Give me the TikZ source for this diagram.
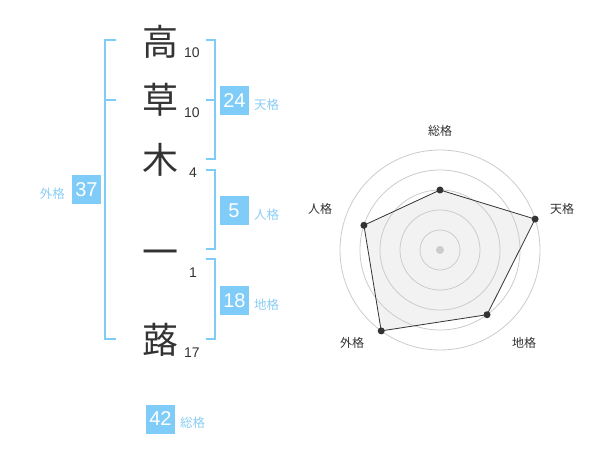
\documentclass[tikz,border=0pt]{standalone}
\usepackage{fontspec}
\setmainfont{Noto Sans CJK JP}
\newfontfamily\numfont{Liberation Sans}
\usetikzlibrary{calc}
\definecolor{kakublue}{RGB}{128,204,248}
\definecolor{kakulabel}{RGB}{140,206,245}
\definecolor{inkgray}{RGB}{51,51,51}
\definecolor{ringgray}{RGB}{204,204,204}
\definecolor{areagray}{RGB}{242,242,242}
\tikzset{
  moji/.style={font=\fontsize{36}{36}\selectfont, text=inkgray, inner sep=0pt},
  kakusu/.style={font=\numfont\fontsize{14}{14}\selectfont, text=inkgray, inner sep=0pt},
  kakubox/.style={fill=kakublue, text=white, font=\numfont\fontsize{20}{20}\selectfont,
    minimum width=29pt, minimum height=29pt, inner sep=0pt},
  kakuname/.style={font=\fontsize{12.5}{12.5}\selectfont, text=kakulabel, inner sep=0pt},
  bracket/.style={draw=kakublue, line width=2pt},
  ring/.style={draw=ringgray, line width=0.8pt},
  axislbl/.style={font=\fontsize{12}{12}\selectfont, text=inkgray, inner sep=0pt},
}
\begin{document}
\begin{tikzpicture}[x=1pt,y=-1pt]
\useasboundingbox[fill=white] (0,0) rectangle (600,470);

% name
\node[moji] (k1) at (160,42) {高};
\node[moji] (k2) at (160,100) {草};
\node[moji] (k3) at (160,160) {木};
\node[moji] (k4) at (160,258) {一};
\node[moji] (k5) at (160,340) {蕗};

\node[kakusu] (n1) at (192,53) {10};
\node[kakusu] (n2) at (192,113) {10};
\node[kakusu] (n3) at (193,173) {4};
\node[kakusu] (n4) at (193,273) {1};
\node[kakusu] (n5) at (192,353) {17};

% brackets
\draw[bracket] (116,40) -- (105,40) -- (105,339) -- (116,339);
\draw[bracket] (105,100) -- (116,100);
\draw[bracket] (205.5,40.5) -- (214.5,40.5) -- (214.5,159) -- (205.5,159);
\draw[bracket] (205.5,100) -- (214.5,100);
\draw[bracket] (205.5,170) -- (214.5,170) -- (214.5,249) -- (205.5,249);
\draw[bracket] (205.5,259) -- (214.5,259) -- (214.5,339) -- (205.5,339);

% scores
\node[kakubox] (ten) at (234.5,100.5) {24};
\node[kakuname, anchor=west] (tenl) at (254,104.5) {天格};
\node[kakubox] (jin) at (234,211) {5};
\node[kakuname, anchor=west] (jinl) at (254,214.5) {人格};
\node[kakubox] (chi) at (234.5,300.5) {18};
\node[kakuname, anchor=west] (chil) at (254,304.5) {地格};
\node[kakubox] (gai) at (86.5,190) {37};
\node[kakuname, anchor=east] (gail) at (65,194) {外格};
\node[kakubox] (sou) at (160.5,419) {42};
\node[kakuname, anchor=west] (soul) at (180,422.5) {総格};

% radar
\coordinate (c) at (440,250);
\foreach \a/\r [count=\i] in {-90/60, -18/100, 54/80, 126/100, 198/80}
  \coordinate (p\i) at ($(c)+(\a:\r)$);
\fill[areagray] (p1) -- (p2) -- (p3) -- (p4) -- (p5) -- cycle;
\foreach \r in {20,40,60,80,100}
  \draw[ring] (c) circle[radius=\r];
\draw[inkgray, line width=0.8pt] (p1) -- (p2) -- (p3) -- (p4) -- (p5) -- cycle;
\foreach \i in {1,...,5}
  \fill[inkgray] (p\i) circle[radius=3.5];
\fill[ringgray] (c) circle[radius=4];

\node[axislbl] (a1) at (440,130.5) {総格};
\node[axislbl] (a2) at (562,208.5) {天格};
\node[axislbl] (a3) at (524,342.5) {地格};
\node[axislbl] (a4) at (352,342.5) {外格};
\node[axislbl] (a5) at (320,208.5) {人格};

\end{tikzpicture}
\end{document}
